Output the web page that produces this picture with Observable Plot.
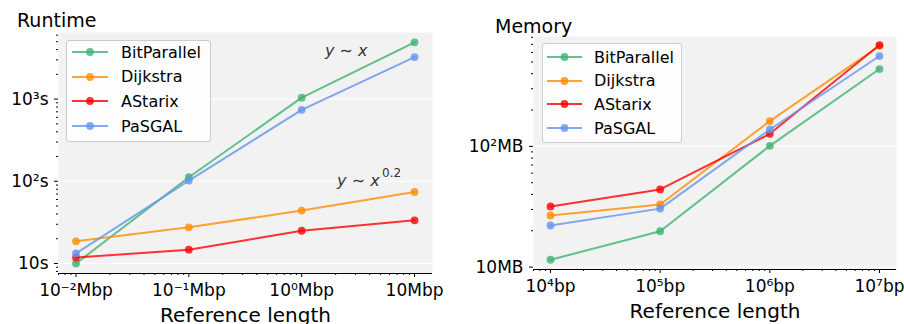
<!DOCTYPE html>
<html><head><meta charset="utf-8">
<script src="https://cdn.jsdelivr.net/npm/d3@7"></script>
<script src="https://cdn.jsdelivr.net/npm/@observablehq/plot@0.6"></script>
<style>
body{margin:0;background:#fff;font-family:"DejaVu Sans",sans-serif;}
#wrap{position:relative;width:904px;height:324px;overflow:hidden;background:#fff;}
.panel{position:absolute;top:0;}
.title{position:absolute;font-size:19px;line-height:19px;color:#000;white-space:nowrap;}
.legend{position:absolute;background:rgba(255,255,255,0.8);border:1px solid #cccccc;border-radius:3px;box-sizing:border-box;}
.row{position:absolute;height:24px;display:flex;align-items:center;font-size:16px;color:#000;white-space:nowrap;}
.row svg{flex:none;}
</style></head>
<body><div id="wrap"></div>
<script>
// ---------- data ----------
const seriesNames = ["BitParallel", "Dijkstra", "AStarix", "PaSGAL"];
const seriesColors = ["#3cb371", "#ff8c00", "#ff0000", "#6495ed"];

const runtimeLengthsMbp = [0.01, 0.1, 1, 10];
const runtimeBitParallel = [10, 112, 1040, 4900];
const runtimeDijkstra = [18.6, 27.5, 44, 74];
const runtimeAStarix = [11.8, 14.7, 25, 33.5];
const runtimePaSGAL = [13.3, 102, 740, 3240];

const memoryLengthsBp = [1e4, 1e5, 1e6, 1e7];
const memoryBitParallel = [11.5, 19.8, 101, 437];
const memoryDijkstra = [26.8, 33, 162, 680];
const memoryAStarix = [31.8, 44, 127, 690];
const memoryPaSGAL = [22.1, 30.5, 138, 560];

const runtimeXTicks = [0.01, 0.1, 1, 10];
const runtimeXLabels = ["10⁻²Mbp", "10⁻¹Mbp", "10⁰Mbp", "10Mbp"];
const runtimeYTicks = [10, 100, 1000];
const runtimeYLabels = ["10s", "10²s", "10³s"];
const memoryXTicks = [1e4, 1e5, 1e6, 1e7];
const memoryXLabels = ["10⁴bp", "10⁵bp", "10⁶bp", "10⁷bp"];
const memoryYTicks = [10, 100];
const memoryYLabels = ["10MB", "10²MB"];

const runtimeNoteText = ["y ∼ x", "y ∼ x", "0.2"];
const runtimeNoteX = [2.48, 2.06, 5.15];
const runtimeNoteY = [3900, 100, 126];

const xAxisLabel = "Reference length";

// ---------- helpers ----------
function minorTicks([lo, hi]) {
  const out = [];
  for (let e = Math.floor(Math.log10(lo)); e <= Math.ceil(Math.log10(hi)); e++) {
    for (let k = 2; k <= 9; k++) {
      const v = k * Math.pow(10, e);
      if (v >= lo && v <= hi) out.push(v);
    }
  }
  return out;
}

function panel(o) {
  const xMap = new Map(o.xTicks.map((t, i) => [t, o.xLabels[i]]));
  const yMap = new Map(o.yTicks.map((t, i) => [t, o.yLabels[i]]));
  const marks = [
    Plot.frame({fill: "#f2f2f2", stroke: "none"}),
    Plot.ruleY(o.yTicks, {stroke: "white", strokeWidth: 1}),
    Plot.ruleY([o.yDomain[0]], {stroke: "black", strokeWidth: 1.2}),
    Plot.axisY(minorTicks(o.yDomain), {tickSize: 2, tickFormat: () => "", label: null}),
    Plot.axisY(o.yTicks, {tickSize: 4, tickPadding: 6, tickFormat: d => yMap.get(d), label: null}),
    Plot.axisX(minorTicks(o.xDomain), {tickSize: 2, tickFormat: () => "", label: null}),
    Plot.axisX(o.xTicks, {tickSize: 4, tickPadding: 6, tickFormat: d => xMap.get(d), label: null})
  ];
  seriesNames.forEach((name, si) => {
    const rows = o.lengths.map((x, i) => ({series: name, x, y: o.values[si][i]}));
    marks.push(Plot.line(rows, {x: "x", y: "y", stroke: seriesColors[si], strokeOpacity: 0.8, strokeWidth: 2}));
    marks.push(Plot.dot(rows, {x: "x", y: "y", r: 3.9, fill: seriesColors[si], fillOpacity: 0.8, stroke: "none"}));
  });
  if (o.notes) marks.push(...o.notes);
  marks.push(Plot.text([xAxisLabel], {text: d => d, frameAnchor: "bottom", lineAnchor: "middle", dy: 42, fontSize: 20}));
  return Plot.plot({
    width: o.width, height: 324,
    marginLeft: o.ml, marginRight: o.mr, marginTop: o.mt, marginBottom: o.mb,
    x: {type: "log", domain: o.xDomain},
    y: {type: "log", domain: o.yDomain},
    style: {fontFamily: "DejaVu Sans", fontSize: "17px", color: "#000", background: "transparent", overflow: "visible"},
    marks
  });
}

function legend(parent, L) {
  const box = document.createElement("div");
  box.className = "legend";
  Object.assign(box.style, {left: L.left + "px", top: L.top + "px", width: L.width + "px", height: L.height + "px"});
  seriesNames.forEach((name, si) => {
    const row = document.createElement("div");
    row.className = "row";
    row.style.left = (L.lineX0 - L.left - 1) + "px";
    row.style.top = (L.rowTop + si * L.rowStep - L.top - 1 - 12) + "px";
    const w = L.lineX1 - L.lineX0;
    const svg = `<svg width="${w}" height="10" style="overflow:visible"><line x1="0" x2="${w}" y1="5" y2="5" stroke="${seriesColors[si]}" stroke-opacity="0.8" stroke-width="2"/><circle cx="${w/2}" cy="5" r="3.9" fill="${seriesColors[si]}" fill-opacity="0.8"/></svg>`;
    row.innerHTML = svg + `<span style="margin-left:${L.textX - L.lineX1}px">${name}</span>`;
    box.appendChild(row);
  });
  parent.appendChild(box);
}

const wrap = document.getElementById("wrap");

// ---------- Runtime ----------
const p1 = document.createElement("div");
p1.className = "panel"; p1.style.left = "0px";
p1.appendChild(panel({
  width: 450, ml: 58, mr: 18, mt: 32, mb: 51,
  lengths: runtimeLengthsMbp,
  values: [runtimeBitParallel, runtimeDijkstra, runtimeAStarix, runtimePaSGAL],
  xDomain: [Math.pow(10, -2.155), Math.pow(10, 1.159)],
  yDomain: [Math.pow(10, 0.878), Math.pow(10, 3.81)],
  xTicks: runtimeXTicks, xLabels: runtimeXLabels,
  yTicks: runtimeYTicks, yLabels: runtimeYLabels,
  notes: [
    Plot.text([0], {x: () => runtimeNoteX[0], y: () => runtimeNoteY[0], text: () => runtimeNoteText[0], fontStyle: "italic", fontSize: 16, fill: "#333"}),
    Plot.text([0], {x: () => runtimeNoteX[1], y: () => runtimeNoteY[1], text: () => runtimeNoteText[1], fontStyle: "italic", fontSize: 16, fill: "#333", textAnchor: "start"}),
    Plot.text([0], {x: () => runtimeNoteX[2], y: () => runtimeNoteY[2], text: () => runtimeNoteText[2], fontSize: 12, fill: "#333", textAnchor: "start"})
  ]
}));
wrap.appendChild(p1);
const t1 = document.createElement("div");
t1.className = "title"; t1.textContent = "Runtime";
Object.assign(t1.style, {left: "17px", top: "11px"});
wrap.appendChild(t1);
legend(wrap, {left: 66, top: 40, width: 145, height: 102, rowTop: 52, rowStep: 24.7, lineX0: 72, lineX1: 108, textX: 121});

// ---------- Memory ----------
const p2 = document.createElement("div");
p2.className = "panel"; p2.style.left = "450px";
p2.appendChild(panel({
  width: 454, ml: 83, mr: 8, mt: 36, mb: 55,
  lengths: memoryLengthsBp,
  values: [memoryBitParallel, memoryDijkstra, memoryAStarix, memoryPaSGAL],
  xDomain: [Math.pow(10, 3.845), Math.pow(10, 7.155)],
  yDomain: [Math.pow(10, 0.98), Math.pow(10, 2.91)],
  xTicks: memoryXTicks, xLabels: memoryXLabels,
  yTicks: memoryYTicks, yLabels: memoryYLabels
}));
wrap.appendChild(p2);
const t2 = document.createElement("div");
t2.className = "title"; t2.textContent = "Memory";
Object.assign(t2.style, {left: "495px", top: "17px"});
wrap.appendChild(t2);
legend(wrap, {left: 542, top: 43, width: 140, height: 100, rowTop: 57, rowStep: 23.7, lineX0: 547, lineX1: 582, textX: 594});
</script>
</body></html>
